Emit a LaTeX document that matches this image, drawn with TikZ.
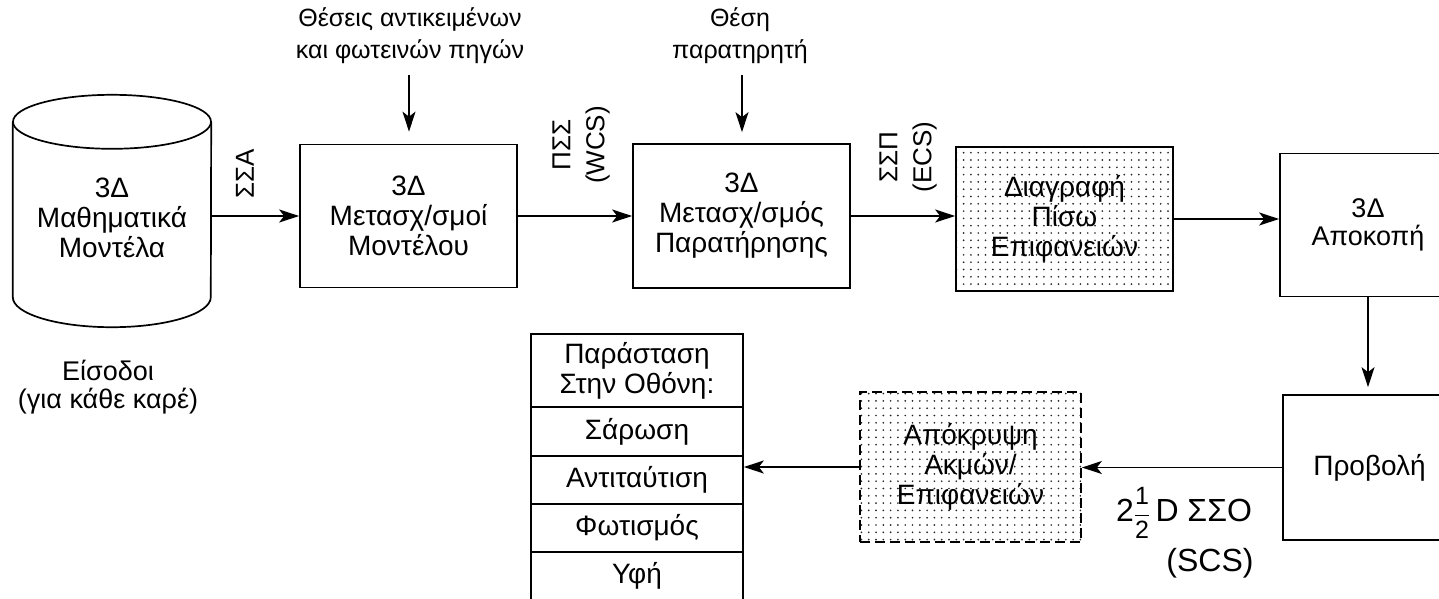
\documentclass[tikz,border=0pt]{standalone}
\usepackage{fontspec}
\setmainfont{Liberation Sans}
\usetikzlibrary{arrows.meta,patterns.meta}
\tikzdeclarepattern{name=sdots, type=uncolored,
  bounding box={(-1.2pt,-1.2pt) and (1.2pt,1.2pt)},
  tile size={(7.3pt,7.3pt)},
  code={\fill (0pt,0pt) circle [radius=0.95pt];}}
\newcommand\bodyfs{\fontsize{28pt}{30pt}\selectfont}
\newcommand\topfs{\fontsize{25pt}{32pt}\selectfont}
\newcommand\inpfs{\fontsize{27pt}{28pt}\selectfont}
\newcommand\rotfs{\fontsize{26pt}{34pt}\selectfont}
\newcommand\bigfs{\fontsize{32pt}{36pt}\selectfont}
\newcommand\fracfs{\fontsize{25pt}{25pt}\selectfont}
\begin{document}
\begin{tikzpicture}[x=1pt,y=-1pt,
  box/.style={draw, line width=1.7pt, minimum width=217pt, minimum height=143pt,
    align=center, inner sep=0pt, font=\bodyfs},
  dotted box/.style={box, pattern=sdots, pattern color=black!85},
  cell/.style={draw, line width=1.6pt, minimum width=212pt, minimum height=48pt,
    inner sep=0pt, align=center, font=\bodyfs},
  lbl/.style={font=\topfs, align=center, inner sep=0pt},
  rlbl/.style={font=\rotfs, align=center, inner sep=0pt, rotate=90},
  arr/.style={-{Stealth[length=20pt,width=13pt,inset=5pt]}, line width=1.5pt}]
\useasboundingbox (0,0) rectangle (1439,598);

% cylinder
\node[minimum width=198pt, minimum height=175pt, inner sep=0pt] (db) at (112,209.5) {};
\draw[line width=1.7pt] (db.north west) -- (db.south west)
  arc[start angle=180, end angle=0, x radius=99, y radius=30] -- (db.north east);
\draw[line width=1.7pt] (db.north) ellipse [x radius=99, y radius=27];
\node[lbl, font=\bodyfs] (dbt) at (112,218) {3Δ\\Μαθηματικά\\Μοντέλα};
\node[lbl, font=\inpfs] (inp) at (108,387) {Είσοδοι\\(για κάθε καρέ)};

% main boxes
\node[box] (b1) at (408.5,216) {3Δ\\Μετασχ/σμοί\\Μοντέλου};
\node[box, minimum height=144pt] (b2) at (741.5,216) {3Δ\\Μετασχ/σμός\\Παρατήρησης};
\node[dotted box, minimum height=144pt] (b3) at (1064.5,219) {Διαγραφή\\Πίσω\\Επιφανειών};
\node[box, minimum width=176pt, font=\inpfs] (b4) at (1368,225) {3Δ\\Αποκοπή};
\node[box, minimum width=173pt, minimum height=145pt] (b5) at (1369.5,467.5) {Προβολή};
\node[dotted box, dash pattern=on 10pt off 5pt, minimum width=221pt, minimum height=150pt]
  (b6) at (970.5,467) {Απόκρυψη\\Ακμών/\\Επιφανειών};

% table
\node[cell] (t2) at (637,431.5) {Σάρωση};
\node[cell] (t3) at (637,480) {Αντιταύτιση};
\node[cell] (t4) at (637,528) {Φωτισμός};
\node[cell] (t5) at (637,576) {Υφή};
\node[cell, line width=2.4pt, minimum height=73pt] (t1) at (637,370.5) {Παράσταση\\Στην Οθόνη:};

% top inputs
\node[lbl] (in1) at (410,36) {Θέσεις αντικειμένων\\και φωτεινών πηγών};
\node[lbl] (in2) at (740,36) {Θέση\\παρατηρητή};
\coordinate (in1s) at (409,75);
\coordinate (in2s) at (742,75);
\draw[arr, shorten >=12pt] (in1s) -- (in1s |- b1.north);
\draw[arr, shorten >=11pt] (in2s) -- (in2s |- b2.north);

% connectors
\draw[arr] (db.east |- b1.west) -- (b1.west);
\draw[arr] (b1.east) -- (b1.east -| b2.west);
\draw[arr] (b2.east) -- (b2.east -| b3.west);
\draw[arr] (b3.east) -- (b3.east -| b4.west);
\draw[arr, shorten >=7pt] (b4.south) -- (b4.south |- b5.north);
\draw[arr] (b5.west) -- (b5.west -| b6.east);
\draw[arr] (b6.west) -- (b6.west -| t3.east);

% coordinate system labels
\node[rlbl] (l1) at (245,174) {ΣΣΑ};
\node[rlbl] (l2) at (581,145) {ΠΣΣ\\(WCS)};
\node[rlbl] (l3) at (908,157) {ΣΣΠ\\(ECS)};
\node[font=\bigfs, inner sep=0pt] (l4) at (1184,513)
  {2$\displaystyle\frac{\hbox{\fracfs 1}}{\hbox{\fracfs 2}}$\,D ΣΣΟ};
\node[font=\bigfs, inner sep=0pt] (l5) at (1210,563) {(SCS)};
\end{tikzpicture}
\end{document}
